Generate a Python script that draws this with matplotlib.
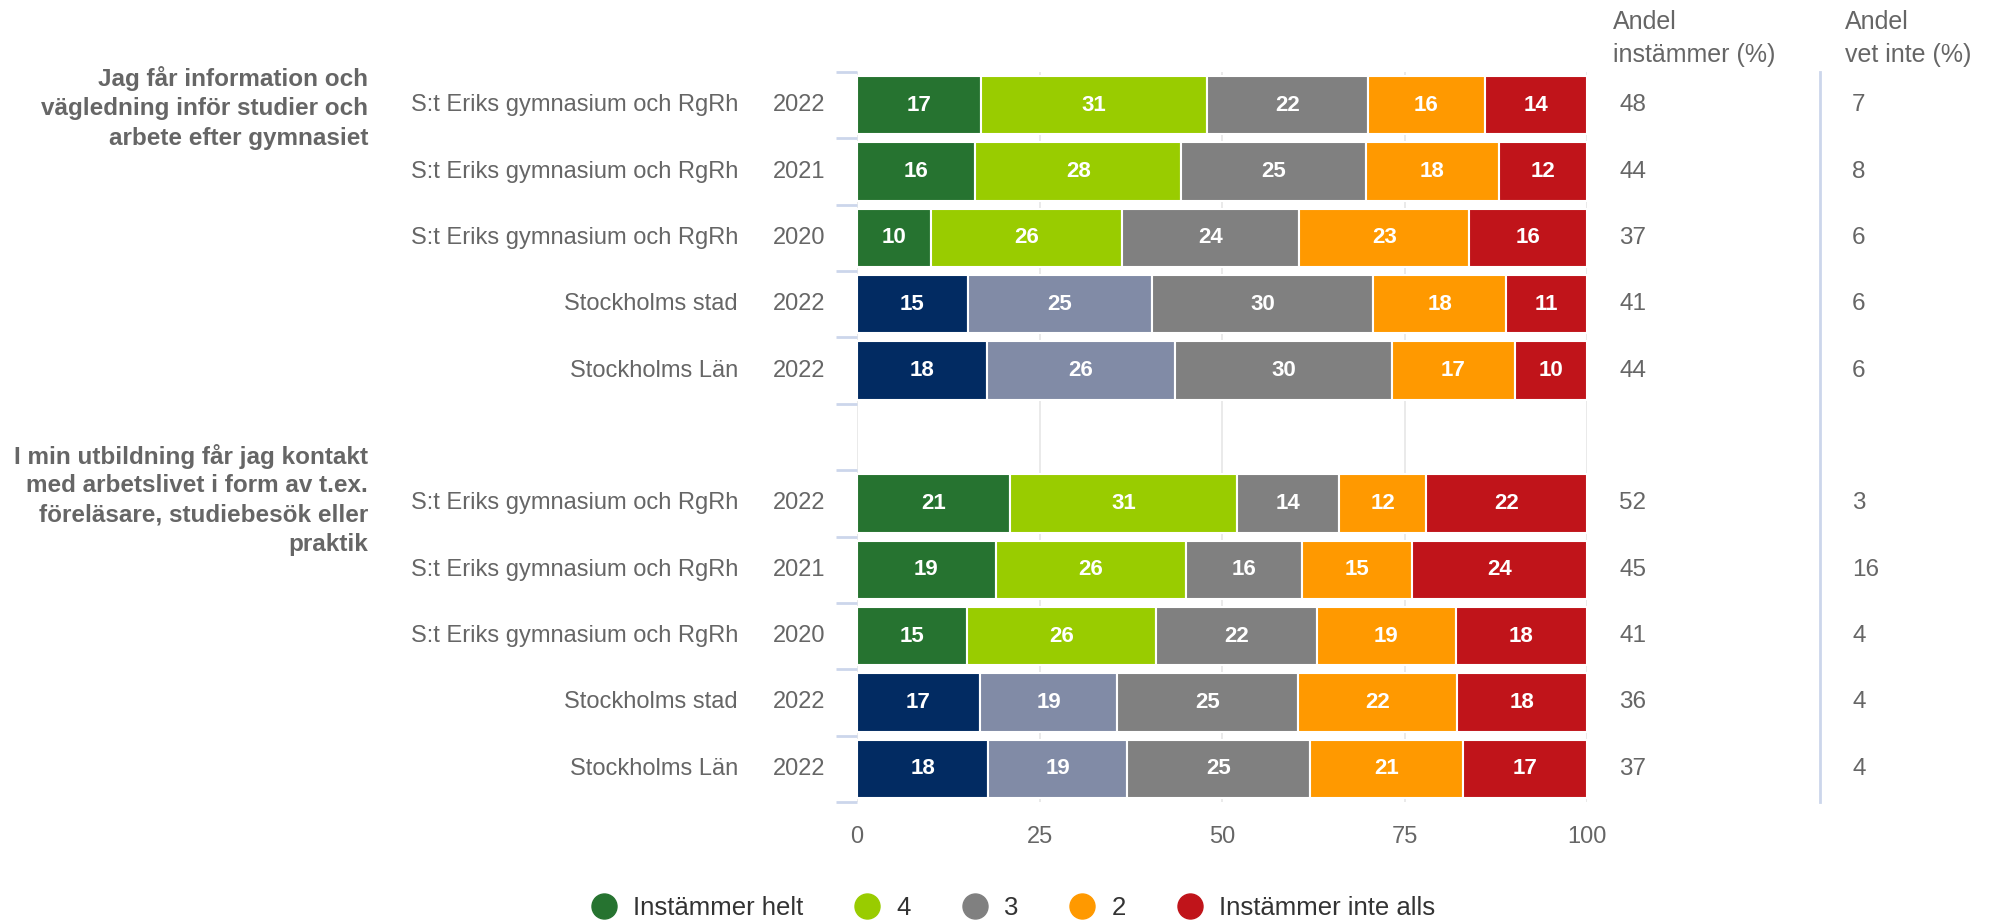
import numpy as np
import matplotlib
matplotlib.use("Agg")
import matplotlib.pyplot as plt
from matplotlib.lines import Line2D
from matplotlib.transforms import blended_transform_factory

plt.rcParams['font.family'] = ['Liberation Sans', 'DejaVu Sans']

# ---------------- data ----------------
questions = [
    ["Jag får information och", "vägledning inför studier och", "arbete efter gymnasiet"],
    ["I min utbildning får jag kontakt", "med arbetslivet i form av t.ex.",
     "föreläsare, studiebesök eller", "praktik"],
]
units = ["S:t Eriks gymnasium och RgRh", "S:t Eriks gymnasium och RgRh",
         "S:t Eriks gymnasium och RgRh", "Stockholms stad", "Stockholms Län"]
years = ["2022", "2021", "2020", "2022", "2022"]
series_names = ["Instämmer helt", "4", "3", "2", "Instämmer inte alls"]

q1_values = [
    [17, 31, 22, 16, 14],
    [16, 28, 25, 18, 12],
    [10, 26, 24, 23, 16],
    [15, 25, 30, 18, 11],
    [18, 26, 30, 17, 10],
]
q2_values = [
    [21, 31, 14, 12, 22],
    [19, 26, 16, 15, 24],
    [15, 26, 22, 19, 18],
    [17, 19, 25, 22, 18],
    [18, 19, 25, 21, 17],
]
q1_andel_instammer = [48, 44, 37, 41, 44]
q2_andel_instammer = [52, 45, 41, 36, 37]
q1_andel_vet_inte = [7, 8, 6, 6, 6]
q2_andel_vet_inte = [3, 16, 4, 4, 4]

school_colors = ["#267330", "#99cc00", "#808080", "#ff9900", "#c0141a"]
ref_colors = ["#022b62", "#818ba6", "#808080", "#ff9900", "#c0141a"]
is_school = [True, True, True, False, False]

# ---------------- figure ----------------
W, H = 1994, 922
fig = plt.figure(figsize=(W / 100, H / 100), dpi=100)
ax = fig.add_axes([857 / W, 1 - 802 / H, (1587 - 857) / W, (802 - 72) / H])

TXT = "#666666"
rows = []
slot = 0
for qi, (vals, andel, vet) in enumerate([(q1_values, q1_andel_instammer, q1_andel_vet_inte),
                                          (q2_values, q2_andel_instammer, q2_andel_vet_inte)]):
    for i in range(5):
        rows.append((slot, vals[i], school_colors if is_school[i] else ref_colors,
                     units[i], years[i], andel[i], vet[i], qi, i))
        slot += 1
    if qi == 0:
        slot += 1  # blank category between groups
total_slots = slot

for x in [0, 25, 50, 75, 100]:
    ax.axvline(x, color="#e6e6e6", lw=1.2, zorder=0)

for (s, vals, cols, unit, year, andel, vet, qi, i) in rows:
    v = np.array(vals, dtype=float)
    pct = v / v.sum() * 100
    left = 0.0
    for k in range(5):
        ax.barh(s, pct[k], left=left, height=0.88, color=cols[k],
                edgecolor="white", linewidth=1.5, zorder=2)
        ax.text(left + pct[k] / 2, s, str(vals[k]), ha="center", va="center",
                color="white", fontsize=16, fontweight="bold", zorder=3)
        left += pct[k]

ax.set_xlim(0, 100)
ax.set_ylim(total_slots - 0.5, -0.5)
ax.set_yticks(np.arange(-0.5, total_slots, 1.0))
ax.set_yticklabels([])
ax.tick_params(axis="y", length=15, width=2, color="#ccd6eb", left=True)
ax.set_xticks([0, 25, 50, 75, 100])
ax.set_xticklabels(["0", "25", "50", "75", "100"])
ax.tick_params(axis="x", length=0, pad=17, labelsize=17, labelcolor=TXT)
for sp in ax.spines.values():
    sp.set_visible(False)

slot_px = (802 - 72) / total_slots
line_pitch = 29.5 / slot_px  # in data units
group_offset = [0.05, -0.04]

tr = blended_transform_factory(fig.transFigure, ax.transData)
for (s, vals, cols, unit, year, andel, vet, qi, i) in rows:
    ax.text(738 / W, s, unit, transform=tr, ha="right", va="center",
            fontsize=17, color=TXT)
    ax.text(825 / W, s, year, transform=tr, ha="right", va="center",
            fontsize=17, color=TXT)
    ax.text(1619 / W, s, str(andel), transform=tr, ha="left", va="center",
            fontsize=17.5, color=TXT)
    ax.text(1852 / W, s, str(vet), transform=tr, ha="left", va="center",
            fontsize=17.5, color=TXT)
    if i == 0:
        lines = questions[qi]
        n = len(lines)
        for k, ln in enumerate(lines):
            yk = s + (k - (n - 1) / 2) * line_pitch + group_offset[qi]
            ax.text(368 / W, yk, ln, transform=tr, ha="right", va="center",
                    fontsize=17.5, color=TXT, fontweight="bold")

for x0, hdr in [(1613, ["Andel", "instämmer (%)"]), (1845, ["Andel", "vet inte (%)"])]:
    for yy, t in zip([22, 55], hdr):
        fig.text(x0 / W, 1 - yy / H, t, ha="left", va="center",
                 fontsize=18, color=TXT)

fig.add_artist(Line2D([1820 / W, 1820 / W], [1 - 72 / H, 1 - 802 / H],
                      transform=fig.transFigure, color="#ccd6eb", lw=2))

handles = [Line2D([], [], marker="o", linestyle="none", markersize=18,
                  markerfacecolor=c, markeredgecolor=c) for c in school_colors]
fig.legend(handles, series_names, loc="center", bbox_to_anchor=(1013 / W, 1 - 908 / H),
           ncol=5, frameon=False, fontsize=18.5, labelcolor="#333333",
           handlelength=1.0, handletextpad=0.63, columnspacing=2.0,
           borderpad=0, borderaxespad=0)

fig.savefig("out.png", dpi=100, facecolor="white")
